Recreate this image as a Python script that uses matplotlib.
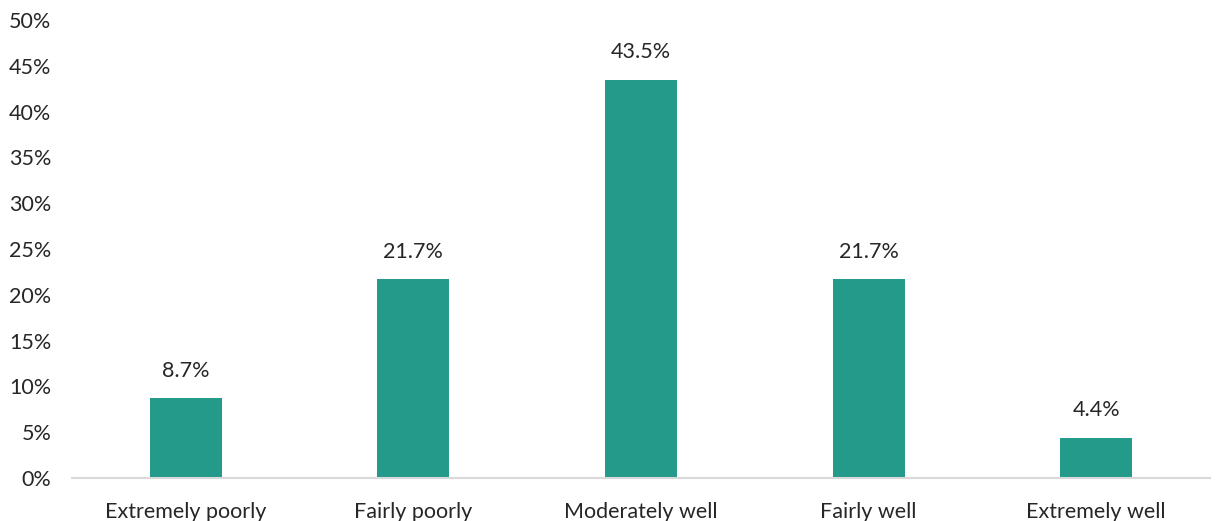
import matplotlib
matplotlib.use("Agg")
import matplotlib.pyplot as plt
from matplotlib.ticker import FuncFormatter, MultipleLocator

categories = ["Extremely poorly", "Fairly poorly", "Moderately well", "Fairly well", "Extremely well"]
values = [8.7, 21.7, 43.5, 21.7, 4.4]
value_labels = ["8.7%", "21.7%", "43.5%", "21.7%", "4.4%"]

plt.rcParams['font.family'] = ['Lato', 'DejaVu Sans']

fig = plt.figure(figsize=(12.19, 5.21), dpi=100)
ax = fig.add_axes([72/1219, 1-478/521, (1210-72)/1219, (478-20)/521])

x = list(range(len(categories)))
bars = ax.bar(x, values, width=0.316, color="#239A8A")
for xi, v, lab in zip(x, values, value_labels):
    ax.text(xi, v + 1.9, lab, ha="center", va="bottom", fontsize=15.5, color="#262626")

ax.set_xlim(-0.5, 4.5)
ax.set_ylim(0, 50)
ax.yaxis.set_major_locator(MultipleLocator(5))
ax.yaxis.set_major_formatter(FuncFormatter(lambda v, p: f"{v:.0f}%"))
ax.set_xticks(x)
ax.set_xticklabels(categories)
ax.tick_params(axis="both", length=0, labelsize=15.5, colors="#262626")
ax.tick_params(axis="x", pad=17)
ax.tick_params(axis="y", pad=15)
for s in ["top", "right", "left"]:
    ax.spines[s].set_visible(False)
ax.spines["bottom"].set_color("#d9d9d9")
ax.spines["bottom"].set_linewidth(1.5)

fig.savefig("out.png", dpi=100)
